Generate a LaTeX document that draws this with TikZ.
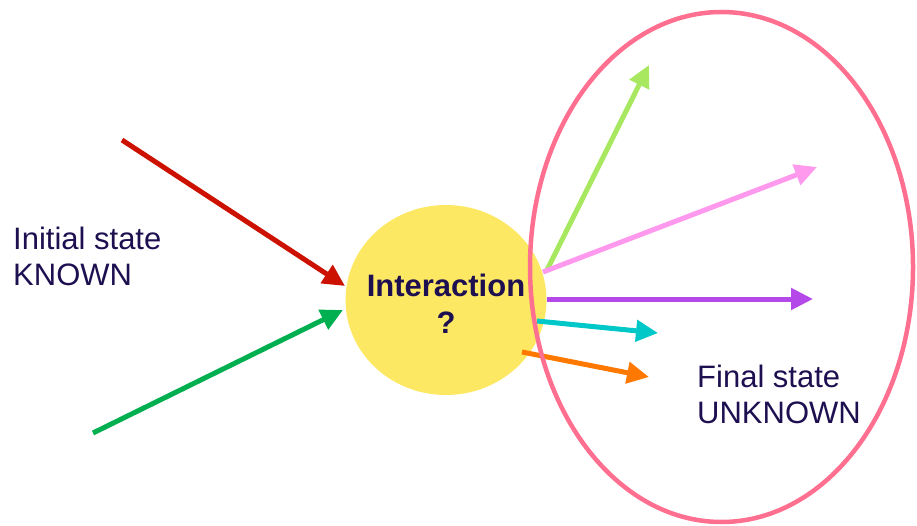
\documentclass[tikz,border=0pt]{standalone}
\usepackage{fontspec}
\setmainfont{Liberation Sans}
\usetikzlibrary{arrows.meta,shapes.geometric}

\definecolor{ink}{RGB}{30,16,80}
\definecolor{blob}{RGB}{253,232,100}
\definecolor{ring}{RGB}{255,112,144}
\definecolor{inred}{RGB}{204,17,0}
\definecolor{ingreen}{RGB}{0,176,80}
\definecolor{outlime}{RGB}{168,232,96}
\definecolor{outpink}{RGB}{255,153,238}
\definecolor{outviolet}{RGB}{180,72,232}
\definecolor{outcyan}{RGB}{0,200,200}
\definecolor{outorange}{RGB}{255,120,0}

\begin{document}
\begin{tikzpicture}[x=1pt,y=-1pt,
  txt/.style={font=\fontsize{31}{36}\selectfont,text=ink,inner sep=0pt,align=left},
  ray/.style={line width=5pt,-{Triangle[length=22pt,width=21pt]}}]
\useasboundingbox (0,0) rectangle (917,526);

\node[ellipse,fill=blob,minimum width=201pt,minimum height=190pt,inner sep=0pt] (ball) at (446,300) {};
\node[txt,align=center,font=\bfseries\fontsize{31}{37}\selectfont] (inter) at (446,304) {Interaction\\?};

\node[txt,anchor=north west] (initial) at (13,227) {Initial state\\KNOWN};
\node[txt,anchor=north west] (final) at (697,365) {Final state\\UNKNOWN};

% incoming
\coordinate (a1) at (122,140); \coordinate (b1) at (345,286);
\coordinate (a2) at (93,433);  \coordinate (b2) at (343,310);
\draw[ray,inred] (a1) -- (b1);
\draw[ray,ingreen] (a2) -- (b2);

% outgoing
\foreach \col/\sx/\sy/\ex/\ey [count=\n] in
  {outlime/547/270/649/65, outpink/543/272/817/167, outviolet/547/299/813/299,
   outcyan/537/321/658/333, outorange/522/352/649/377}
{
  \coordinate (s\n) at (\sx,\sy);
  \coordinate (e\n) at (\ex,\ey);
  \draw[ray,\col] (s\n) -- (e\n);
}

\draw[ring,line width=4.5pt] (721.5,267) ellipse [x radius=191.5,y radius=255];
\end{tikzpicture}
\end{document}
